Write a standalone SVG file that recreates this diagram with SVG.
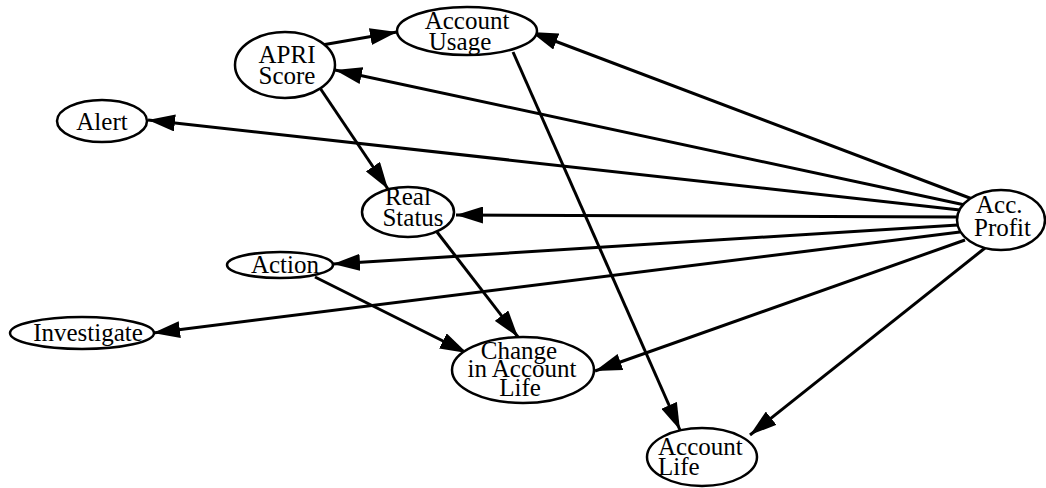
<svg xmlns="http://www.w3.org/2000/svg" width="1046" height="488" viewBox="0 0 1046 488">
<style>
.n ellipse{fill:#fff;stroke:#000;stroke-width:2.5}
.n text{font-family:"Liberation Serif","Times New Roman",serif;font-size:25px;fill:#000;text-anchor:middle}
.n text.l{text-anchor:start}
.e line{stroke:#000;stroke-width:3;marker-end:url(#ah)}
</style>
<defs>
<marker id="ah" markerUnits="userSpaceOnUse" markerWidth="28" markerHeight="17" refX="27" refY="8.5" orient="auto">
<path d="M0,0 L27,8.5 L0,17 z" fill="#000"/>
</marker>
</defs>
<rect width="1046" height="488" fill="#fff"/>
<g id="connectors" class="e">
<line x1="322" y1="45" x2="397" y2="32"/>
<line x1="975" y1="200" x2="531" y2="32"/>
<line x1="965" y1="205" x2="335" y2="70"/>
<line x1="960" y1="210" x2="148" y2="120"/>
<line x1="320" y1="88" x2="388" y2="189"/>
<line x1="958" y1="217" x2="456" y2="215"/>
<line x1="958" y1="225" x2="333" y2="264"/>
<line x1="960" y1="232" x2="153" y2="333"/>
<line x1="513" y1="52" x2="680" y2="430"/>
<line x1="437" y1="232" x2="518" y2="337"/>
<line x1="315" y1="277" x2="467" y2="353"/>
<line x1="965" y1="240" x2="595" y2="371"/>
<line x1="985" y1="248" x2="750" y2="435"/>
</g>
<g id="apri" class="n"><ellipse cx="285" cy="65" rx="50" ry="33"/><text x="287" y="63">APRI</text><text x="287" y="84">Score</text></g>
<g id="usage" class="n"><ellipse cx="467" cy="31" rx="70" ry="24"/><text x="467" y="29">Account</text><text x="460" y="50">Usage</text></g>
<g id="alert" class="n"><ellipse cx="102" cy="121" rx="45" ry="21"/><text x="102" y="130">Alert</text></g>
<g id="realstatus" class="n"><ellipse cx="408" cy="212" rx="46" ry="25"/><text x="408" y="205">Real</text><text x="413" y="226">Status</text></g>
<g id="action" class="n"><ellipse cx="280" cy="265" rx="53" ry="13"/><text x="285" y="273">Action</text></g>
<g id="investigate" class="n"><ellipse cx="82" cy="333" rx="72" ry="16"/><text x="88" y="341">Investigate</text></g>
<g id="change" class="n"><ellipse cx="523" cy="370" rx="71" ry="33"/><text x="519" y="359">Change</text><text x="522" y="377">in Account</text><text x="520" y="396">Life</text></g>
<g id="acclife" class="n"><ellipse cx="702" cy="457" rx="55" ry="29"/><text class="l" x="658" y="455">Account</text><text class="l" x="658" y="475">Life</text></g>
<g id="profit" class="n"><ellipse cx="1001" cy="220" rx="44" ry="30"/><text class="l" x="976" y="213">Acc.</text><text class="l" x="974" y="236">Profit</text></g>
</svg>
